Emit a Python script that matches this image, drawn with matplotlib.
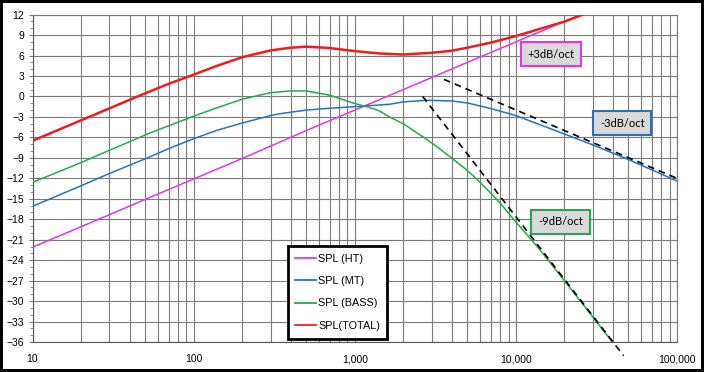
import matplotlib
matplotlib.use("Agg")
import matplotlib.pyplot as plt
from matplotlib.ticker import FixedLocator, LogLocator, MultipleLocator, FuncFormatter
from matplotlib.patches import Rectangle

plt.rcParams['font.family'] = ['Liberation Sans', 'DejaVu Sans']

# ---- values (Hz, dB) ----
freq_ht = [10, 20, 50, 100, 200, 500, 1000, 2000, 5000, 10000, 20000, 30000]
spl_ht = [-22.1, -19.1, -15.1, -12.1, -9.1, -5.0, -2.0, 1.0, 5.0, 8.0, 11.0, 12.7]

freq_mt = [10, 20, 30, 53, 70, 100, 138, 200, 300, 340, 500, 700, 1000, 1640, 2000,
           2800, 4000, 5000, 7000, 10000, 20000, 30000, 50000, 100000]
spl_mt = [-16.1, -13.1, -11.3, -8.9, -7.65, -6.2, -5.0, -3.9, -2.8, -2.55, -2.0, -1.73,
          -1.5, -1.15, -0.8, -0.56, -0.66, -0.95, -1.78, -2.8, -5.5, -7.1, -9.25, -12.4]

freq_bass = [10, 20, 30, 53, 70, 100, 138, 200, 300, 400, 500, 700, 1000, 1190, 1420,
             1640, 2000, 2800, 3340, 4000, 5000, 6000, 7000, 8000, 10000, 14000, 20000,
             40000, 45000]
spl_bass = [-12.6, -9.7, -7.9, -5.4, -4.3, -2.9, -1.7, -0.4, 0.55, 0.81, 0.81, 0.18,
            -1.04, -1.5, -2.1, -3.0, -4.0, -6.3, -7.6, -9.05, -10.85, -12.6, -14.2,
            -15.65, -18.4, -22.4, -27.0, -36.1, -37.5]

freq_total = [10, 20, 30, 40, 53, 70, 100, 138, 200, 300, 400, 500, 700, 1000, 1420,
              2000, 3000, 4000, 5000, 7000, 10000, 15000, 20000, 26000, 30000]
spl_total = [-6.5, -3.5, -1.75, -0.5, 0.7, 1.85, 3.2, 4.45, 5.75, 6.75, 7.15, 7.3, 7.1,
             6.65, 6.3, 6.15, 6.4, 6.7, 7.15, 7.9, 8.85, 10.1, 10.96, 12.0, 12.6]

# asymptotes (dashed)
asym3_f = [3580, 104500]
asym3_db = [2.5, -12.2]
asym9_f = [2640, 46600]
asym9_db = [0.0, -38.0]

labels = ['SPL (HT)', 'SPL (MT)', 'SPL (BASS)', 'SPL(TOTAL)']
c_ht = '#e535e5'
c_mt = '#2a72b8'
c_bass = '#28a84e'
c_total = '#ee1c1c'

fig = plt.figure(figsize=(7.04, 3.72), dpi=100)
ax = fig.add_axes([32.5/704, 1-342/372, (677-32.5)/704, (342-14.6)/372])

ax.plot(freq_ht, spl_ht, color=c_ht, lw=1.1, label=labels[0], zorder=3)
ax.plot(freq_mt, spl_mt, color=c_mt, lw=1.1, label=labels[1], zorder=3)
ax.plot(freq_bass, spl_bass, color=c_bass, lw=1.1, label=labels[2], zorder=3)
ax.plot(freq_total, spl_total, color=c_total, lw=1.8, label=labels[3], zorder=3)

ax.plot(asym3_f, asym3_db, color='black', lw=1.2, ls=(0, (4, 3)), clip_on=False, zorder=4)
ax.plot(asym9_f, asym9_db, color='black', lw=1.2, ls=(0, (4, 3)), clip_on=False, zorder=4)

ax.set_xscale('log')
ax.set_xlim(10, 100000)
ax.set_ylim(-36, 12)

ax.xaxis.set_major_locator(FixedLocator([10, 100, 1000, 10000, 100000]))
ax.xaxis.set_minor_locator(LogLocator(base=10, subs=range(2, 10), numticks=20))
ax.xaxis.set_major_formatter(FuncFormatter(lambda v, p: '{:,.0f}'.format(v)))
ax.xaxis.set_minor_formatter(FuncFormatter(lambda v, p: ''))
ax.yaxis.set_major_locator(MultipleLocator(3))
ax.yaxis.set_minor_locator(MultipleLocator(1))

gcol = '#7a7a7a'
ax.grid(which='both', axis='x', color=gcol, lw=0.8)
ax.grid(which='major', axis='y', color=gcol, lw=0.8)
for s in ax.spines.values():
    s.set_color(gcol)
    s.set_linewidth(0.8)
ax.spines['left'].set_color('#555555')
ax.spines['bottom'].set_color('#555555')

ax.tick_params(axis='y', which='major', length=3, color=gcol, labelsize=7.5, pad=3)
ax.tick_params(axis='y', which='minor', length=2, color=gcol)
ax.tick_params(axis='x', which='both', length=0, labelsize=7.5, pad=9)

# slope labels
box = dict(boxstyle='square,pad=0.6', facecolor='#d9d9d9', lw=1.5)
fam = ['Lato', 'DejaVu Sans']
ax.text(16500, 6.2, '+3dB/oct', fontsize=8, family=fam,
        ha='center', va='center', bbox=dict(box, edgecolor=c_ht), zorder=5)
ax.text(45700, -3.9, '-3dB/oct', fontsize=8, family=fam,
        ha='center', va='center', bbox=dict(box, edgecolor=c_mt), zorder=5)
ax.text(18900, -18.4, '-9dB/oct', fontsize=8, family=fam,
        ha='center', va='center', bbox=dict(box, edgecolor=c_bass), zorder=5)

leg = ax.legend(loc='upper left', bbox_to_anchor=(287.7/704, 1-246/372),
                bbox_transform=fig.transFigure, borderaxespad=0, fontsize=7.8,
                frameon=True, fancybox=False, framealpha=1, edgecolor='black',
                handlelength=1.9, handletextpad=0.2, labelspacing=1.15,
                borderpad=0.7)
leg.get_frame().set_linewidth(2.0)
leg.set_zorder(6)
for h in leg.get_lines():
    h.set_linewidth(1.3)

# outer frame of the picture
fig.patches.append(Rectangle((0, 0), 1, 1, transform=fig.transFigure, fill=False,
                             edgecolor='black', lw=4.3))

fig.savefig('out.png', dpi=100)
